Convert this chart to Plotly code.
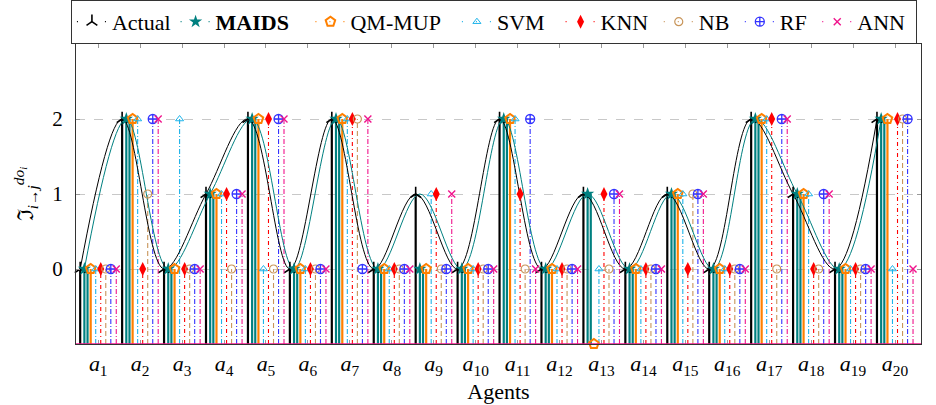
import plotly.graph_objects as go

# ---------------- data ----------------
agent_index = list(range(1, 21))
tick_labels = [f"<i>a</i><sub>{i}</sub>" for i in agent_index]
series_names = ["Actual", "MAIDS", "QM-MUP", "SVM", "KNN", "NB", "RF", "ANN"]

actual = [0, 2, 0, 1, 2, 0, 2, 0, 1, 0, 2, 0, 1, 0, 1, 0, 2, 1, 0, 2]
maids  = [0, 2, 0, 1, 2, 0, 2, 0, 0, 0, 2, 0, 1, 0, 1, 0, 2, 1, 0, 2]
qm_mup = [0, 2, 0, 1, 2, 0, 2, 0, 0, 0, 2, 0, -1, 0, 1, 0, 2, 1, 0, 2]
svm    = [0, 2, 2, 1, 0, 0, 2, 0, 1, 0, 2, 0, 0, 0, 1, 0, 2, 1, 0, 0]
knn    = [0, 0, 0, 1, 2, 0, 2, 0, 1, 0, 1, 0, 1, 0, 0, 0, 2, 0, 0, 2]
nb     = [0, 1, 0, 0, 0, 0, 2, 0, 0, 0, 0, 0, 0, 0, 1, 0, 0, 0, 0, 2]
rf     = [0, 2, 0, 1, 2, 0, 0, 0, 0, 0, 2, 0, 1, 0, 1, 0, 2, 1, 0, 2]
ann    = [0, 2, 0, 1, 2, 0, 2, 0, 1, 0, 0, 0, 1, 0, 1, 0, 2, 1, 0, 0]

values = {"Actual": actual, "MAIDS": maids, "QM-MUP": qm_mup, "SVM": svm,
          "KNN": knn, "NB": nb, "RF": rf, "ANN": ann}

# ---------------- styles ----------------
Y_MIN, Y_MAX = -1, 3
X_MIN, X_MAX = 0.9, 21.05
TICK_SHIFT = 0.43
FONT = "Liberation Serif"
SP = "\u00a0"

styles = {
    "Actual": dict(offsets=[0.0], color="#000000", width=2.2, dash="solid",
                   symbol="y-up-open", msize=9, mline=1.6, label="Actual"),
    "MAIDS": dict(offsets=[0.10, 0.175], color="#008080", width=2.2, dash="solid",
                  symbol="star", msize=10, mline=0, label="<b>MAIDS</b>" + SP * 3),
    "QM-MUP": dict(offsets=[0.25], color="#FF8000", width=2.2, dash="solid",
                   symbol="pentagon-open", msize=10, mline=2, label="QM-MUP" + SP * 2),
    "SVM": dict(offsets=[0.37], color="#1EB4EA", width=1.1, dash="5px,2px,1px,2px",
                symbol="triangle-up-open", msize=7, mline=1, label="SVM" + SP * 2),
    "KNN": dict(offsets=[0.49], color="#FF0000", width=1.1, dash="4px,3px,1px,3px",
                symbol="diamond-tall", msize=10, mline=0, label="KNN" + SP),
    "NB": dict(offsets=[0.61], color="#C8955A", width=1.1, dash="5px,3px",
               symbol="circle-open", msize=8, mline=1.2, label="NB" + SP),
    "RF": dict(offsets=[0.73], color="#3333FF", width=1.1, dash="5px,2px,1px,2px",
               symbol="circle-cross-open", msize=9, mline=1.3, label="RF" + SP),
    "ANN": dict(offsets=[0.86], color="#F0148C", width=1.1, dash="5px,2px,1px,2px",
                symbol="x-thin-open", msize=7, mline=1.4, label="ANN" + SP),
}

fig = go.Figure()


def stems(xs, ys):
    sx, sy = [], []
    for x, y in zip(xs, ys):
        sx += [x, x, None]
        sy += [Y_MIN, y, None]
    return sx, sy


# stems
for name in series_names:
    st = styles[name]
    for off in st["offsets"]:
        xs = [i + off for i in agent_index]
        sx, sy = stems(xs, values[name])
        fig.add_trace(go.Scatter(x=sx, y=sy, mode="lines", showlegend=False,
                                 hoverinfo="skip",
                                 line=dict(color=st["color"], width=st["width"], dash=st["dash"])))

# smooth curves (actual profile and shifted copy)
fig.add_trace(go.Scatter(x=agent_index, y=actual, mode="lines", showlegend=False,
                         line=dict(color="#000000", width=1, shape="spline", smoothing=1.0)))
fig.add_trace(go.Scatter(x=[i + styles["MAIDS"]["offsets"][0] for i in agent_index], y=actual,
                         mode="lines", showlegend=False,
                         line=dict(color="#008080", width=1, shape="spline", smoothing=1.0)))

# markers
for name in series_names:
    st = styles[name]
    xs = [i + st["offsets"][0] for i in agent_index]
    fig.add_trace(go.Scatter(x=xs, y=values[name], mode="markers", showlegend=False,
                             cliponaxis=False,
                             marker=dict(symbol=st["symbol"], size=st["msize"], color=st["color"],
                                         line=dict(color=st["color"], width=st["mline"]))))

# legend entries
for name in series_names:
    st = styles[name]
    fig.add_trace(go.Scatter(x=[None], y=[None], mode="lines+markers", name=st["label"],
                             line=dict(color=st["color"], width=1.2, dash="1px,13px"),
                             marker=dict(symbol=st["symbol"], size=st["msize"], color=st["color"],
                                         line=dict(color=st["color"], width=st["mline"]))))

# bottom baseline in magenta
fig.add_shape(type="line", xref="paper", yref="y", x0=0, x1=1, y0=Y_MIN, y1=Y_MIN,
              line=dict(color="#F0148C", width=1.5), layer="above")

fig.update_layout(
    width=936, height=405,
    margin=dict(l=76, r=15, t=44, b=61, autoexpand=False),
    paper_bgcolor="white", plot_bgcolor="white",
    font=dict(family=FONT, size=20, color="#000000"),
    showlegend=True,
    legend=dict(orientation="h", x=-0.006, xanchor="left", y=1.147, yanchor="top",
                bordercolor="#333333", borderwidth=1, bgcolor="white",
                font=dict(family=FONT, size=22), itemwidth=30, tracegroupgap=0),
    xaxis=dict(range=[X_MIN, X_MAX], tickmode="array",
               tickvals=[i + TICK_SHIFT for i in agent_index], ticktext=tick_labels,
               ticks="inside", ticklen=4, tickcolor="#999999", mirror="allticks",
               showline=True, linecolor="#333333", linewidth=1, showgrid=False,
               zeroline=False, tickfont=dict(family=FONT, size=22),
               title=dict(text="Agents", font=dict(family=FONT, size=22), standoff=4)),
    yaxis=dict(range=[Y_MIN, Y_MAX], tickmode="array", tickvals=[0, 1, 2],
               ticktext=["0", "1", "2"], ticks="inside", ticklen=4, tickcolor="#999999",
               mirror="allticks", showline=True, linecolor="#333333", linewidth=1,
               showgrid=True, gridcolor="#C8C8C8", griddash="dash", gridwidth=1,
               zeroline=False, ticklabelstandoff=8, tickfont=dict(family=FONT, size=21),
               title=dict(text="ℑ<sub><i>i</i>→<i>j</i></sub><sup><i>do<sub>i</sub></i></sup>",
                          font=dict(family=FONT, size=22), standoff=12)),
)

fig.write_html("out.html", config={"displayModeBar": False},
               post_script="document.body.style.margin='0px';")
